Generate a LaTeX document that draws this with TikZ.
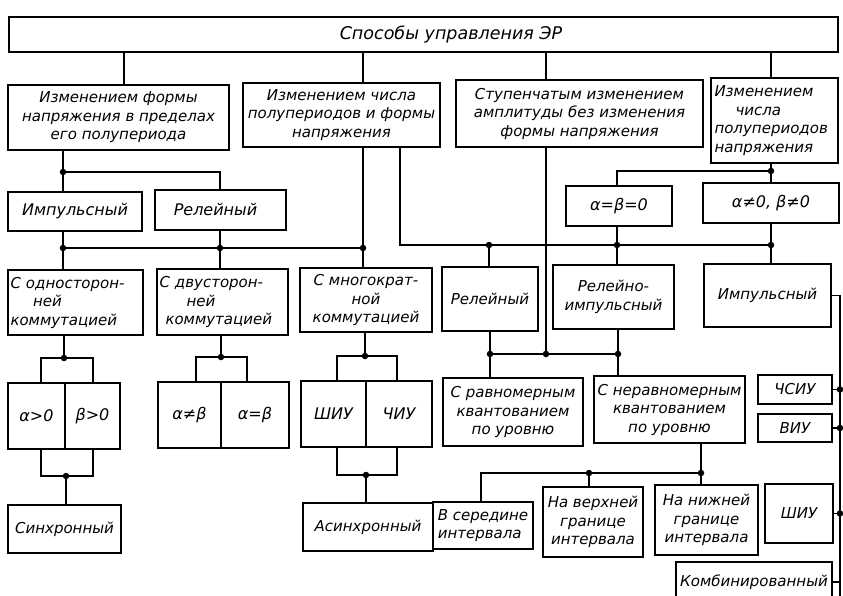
\documentclass[tikz,border=0pt]{standalone}
\usepackage{fontspec}
\newfontfamily\gost{DejaVu Sans Oblique}
\begin{document}
\begin{tikzpicture}[x=1pt,y=-1pt,
  box/.style={draw, line width=1.3pt, rectangle, inner sep=1pt, align=center,
    font=\gost\fontsize{15}{18.5}\selectfont},
  ln/.style={line width=1.1pt},
  dot/.style={circle, fill, inner sep=0pt, minimum size=6.5pt}]
\useasboundingbox (0,0) rectangle (843,595);
\fill[white] (0,0) rectangle (843,595);
% ---------- boxes ----------
\node[box, minimum width=829pt, minimum height=35pt, font=\gost\fontsize{17.5}{20}\selectfont] (top) at (423.5,34.5) {\hspace*{55pt}Способы управления ЭР};
\node[box, minimum width=221pt, minimum height=65pt] (A) at (118.5,117.5) {Изменением формы\\напряжения в пределах\\его полупериода};
\node[box, minimum width=197pt, minimum height=64pt] (B) at (341.5,115) {Изменением числа\\полупериодов и формы\\напряжения};
\node[box, minimum width=247pt, minimum height=67pt] (C) at (579.5,113.5) {Ступенчатым изменением\\амплитуды без изменения\\формы напряжения};
\node[box, minimum width=127pt, minimum height=85pt, text width=120pt, align=left] (D) at (774.5,120.5) {Изменением\\\hspace*{1.4em}числа\\полупериодов\\напряжения};
\node[box, minimum width=134pt, minimum height=39pt, font=\gost\fontsize{16}{19}\selectfont] (Imp1) at (75,211.5) {Импульсный};
\node[box, minimum width=131pt, minimum height=40pt, font=\gost\fontsize{16}{19}\selectfont] (Rel1) at (220.5,210) {Релейный\hspace*{10pt}};
\node[box, minimum width=135pt, minimum height=65pt, text width=130pt, align=left] (Odn) at (75.5,302.5) {С односторон-\\\hspace*{1.5em}ней\\коммутацией};
\node[box, minimum width=131pt, minimum height=66pt, text width=126pt, align=left] (Dvu) at (222.5,302) {С двусторон-\\\hspace*{1.8em}ней\\\hspace*{0.4em}коммутацией};
\node[box, minimum width=132pt, minimum height=64pt] (Mnog) at (366,300) {С многократ-\\ной\\коммутацией};
\node[box, minimum width=106pt, minimum height=40pt, font=\gost\fontsize{16}{19}\selectfont] (AB0) at (619,206) {α=β=0};
\node[box, minimum width=136pt, minimum height=40pt, font=\gost\fontsize{16}{19}\selectfont] (ABn0) at (771,203) {α≠0, β≠0};
\node[box, minimum width=96pt, minimum height=64pt] (Rel2) at (490,299) {Релейный};
\node[box, minimum width=121pt, minimum height=64pt] (RelImp) at (613.5,297) {Релейно-\\импульсный};
\node[box, minimum width=127pt, minimum height=63pt] (Imp2) at (767.5,295.5) {Импульсный};
\node[box, minimum width=140pt, minimum height=68pt] (Ravn) at (513,412) {С равномерным\\квантованием\\по уровню};
\node[box, minimum width=151pt, minimum height=67pt] (Nerav) at (669.5,409.5) {С неравномерным\\квантованием\\по уровню};
\node[box, minimum width=74pt, minimum height=29pt] (CSIU) at (795,389.5) {ЧСИУ};
\node[box, minimum width=74pt, minimum height=28pt] (VIU) at (795,428) {ВИУ};
\node[box, minimum width=100pt, minimum height=47pt, align=left] (Vser) at (483,525.5) {В середине\\интервала};
\node[box, minimum width=100pt, minimum height=70pt] (Nverh) at (593,522) {На верхней\\границе\\интервала};
\node[box, minimum width=103pt, minimum height=70pt] (Nnizh) at (706.5,520) {На нижней\\границе\\интервала};
\node[box, minimum width=68pt, minimum height=59pt] (SHIU2) at (799,513.5) {ШИУ};
\node[box, minimum width=156pt, minimum height=40pt] (Komb) at (754,582) {Комбинированный};
\node[box, minimum width=57pt, minimum height=66pt, font=\gost\fontsize{16}{19}\selectfont] (a1) at (36.5,416) {α>0};
\node[box, minimum width=55pt, minimum height=66pt, font=\gost\fontsize{16}{19}\selectfont] (b1) at (92.5,416) {β>0};
\node[box, minimum width=63pt, minimum height=66pt, font=\gost\fontsize{16}{19}\selectfont] (n1) at (189.5,415) {α≠β};
\node[box, minimum width=68pt, minimum height=66pt, font=\gost\fontsize{16}{19}\selectfont] (e1) at (255,415) {α=β};
\node[box, minimum width=65pt, minimum height=66pt, font=\gost\fontsize{16}{19}\selectfont] (shiu) at (333.5,414) {ШИУ};
\node[box, minimum width=66pt, minimum height=66pt, font=\gost\fontsize{16}{19}\selectfont] (chiu) at (399,414) {ЧИУ};
\node[box, minimum width=113pt, minimum height=48pt] (Sinh) at (64.5,529) {Синхронный};
\node[box, minimum width=130pt, minimum height=48pt] (Asinh) at (368,527) {Асинхронный};
% ---------- column coordinates ----------
\coordinate (cA) at (124,0);
\coordinate (cB) at (363,0);
\coordinate (cB2) at (400,0);
\coordinate (cC) at (546,0);
\coordinate (cD) at (771,0);
\coordinate (cS1) at (41,0);
\coordinate (cS2) at (93,0);
\coordinate (cT1) at (196,0);
\coordinate (cT2) at (247,0);
\coordinate (cM1) at (337,0);
\coordinate (cM2) at (397,0);
\coordinate (cV) at (481,0);
\coordinate (cE) at (840,0);
\coordinate (cEbot) at (840,600);
% ---------- junction dots ----------
\node[dot] (dA) at (63,172) {};
\node[dot] (dL1) at (63,248) {};
\node[dot] (dL2) at (220,248) {};
\node[dot] (dL3) at (363,248) {};
\node[dot] (dR1) at (489,245) {};
\node[dot] (dR2) at (617,245) {};
\node[dot] (dR3) at (771,245) {};
\node[dot] (dD) at (771,171) {};
\node[dot] (dS1) at (64,358) {};
\node[dot] (dS2) at (66,476) {};
\node[dot] (dT1) at (221,357) {};
\node[dot] (dM1) at (365,356) {};
\node[dot] (dM2) at (366,475) {};
\node[dot] (dLo1) at (490,354) {};
\node[dot] (dLo2) at (546,354) {};
\node[dot] (dLo3) at (618,354) {};
\node[dot] (dN1) at (701,473) {};
\node[dot] (dN2) at (589,473) {};
\node[dot] (dE1) at (840,389.5) {};
\node[dot] (dE2) at (840,428) {};
\node[dot] (dE3) at (840,513.5) {};
% ---------- connectors ----------
\draw[ln] (top.south -| cA) -- (A.north -| cA);
\draw[ln] (top.south -| cB) -- (B.north -| cB);
\draw[ln] (top.south -| cC) -- (C.north -| cC);
\draw[ln] (top.south -| cD) -- (D.north -| cD);
\draw[ln] (A.south -| dA) -- (Imp1.north -| dA);
\draw[ln] (dA.center) -| (Rel1.north -| dL2);
\draw[ln] (Imp1.south -| dL1) -- (Odn.north -| dL1);
\draw[ln] (Rel1.south -| dL2) -- (Dvu.north -| dL2);
\draw[ln] (B.south -| dL3) -- (Mnog.north -| dL3);
\draw[ln] (dL1.center) -- (dL3.center);
\draw[ln] (B.south -| cB2) |- (dR3.center);
\draw[ln] (C.south -| cC) -- (dLo2.center);
\draw[ln] (D.south -| dD) -- (ABn0.north -| dD);
\draw[ln] (dD.center) -| (AB0.north -| dR2);
\draw[ln] (AB0.south -| dR2) -- (RelImp.north -| dR2);
\draw[ln] (ABn0.south -| dR3) -- (Imp2.north -| dR3);
\draw[ln] (dR1.center) -- (Rel2.north -| dR1);
\draw[ln] (Rel2.south -| dLo1) -- (Ravn.north -| dLo1);
\draw[ln] (RelImp.south -| dLo3) -- (Nerav.north -| dLo3);
\draw[ln] (dLo1.center) -- (dLo3.center);
\draw[ln] (Nerav.south -| dN1) -- (Nnizh.north -| dN1);
\draw[ln] (dN1.center) -- (dN1 -| cV) -- (Vser.north -| cV);
\draw[ln] (dN2.center) -- (Nverh.north -| dN2);
\draw[ln] (Imp2.east) -- (Imp2.east -| cE) -- (cEbot);
\draw[ln] (CSIU.east) -- (dE1.center);
\draw[ln] (VIU.east) -- (dE2.center);
\draw[ln] (SHIU2.east) -- (dE3.center);
\draw[ln] (Komb.east) -- (Komb.east -| cE);
\draw[ln] (Odn.south -| dS1) -- (dS1.center);
\draw[ln] (a1.north -| cS1) |- (dS1.center) -| (b1.north -| cS2);
\draw[ln] (a1.south -| cS1) |- (dS2.center) -| (b1.south -| cS2);
\draw[ln] (dS2.center) -- (Sinh.north -| dS2);
\draw[ln] (Dvu.south -| dT1) -- (dT1.center);
\draw[ln] (n1.north -| cT1) |- (dT1.center) -| (e1.north -| cT2);
\draw[ln] (Mnog.south -| dM1) -- (dM1.center);
\draw[ln] (shiu.north -| cM1) |- (dM1.center) -| (chiu.north -| cM2);
\draw[ln] (shiu.south -| cM1) |- (dM2.center) -| (chiu.south -| cM2);
\draw[ln] (dM2.center) -- (Asinh.north -| dM2);
\end{tikzpicture}
\end{document}
